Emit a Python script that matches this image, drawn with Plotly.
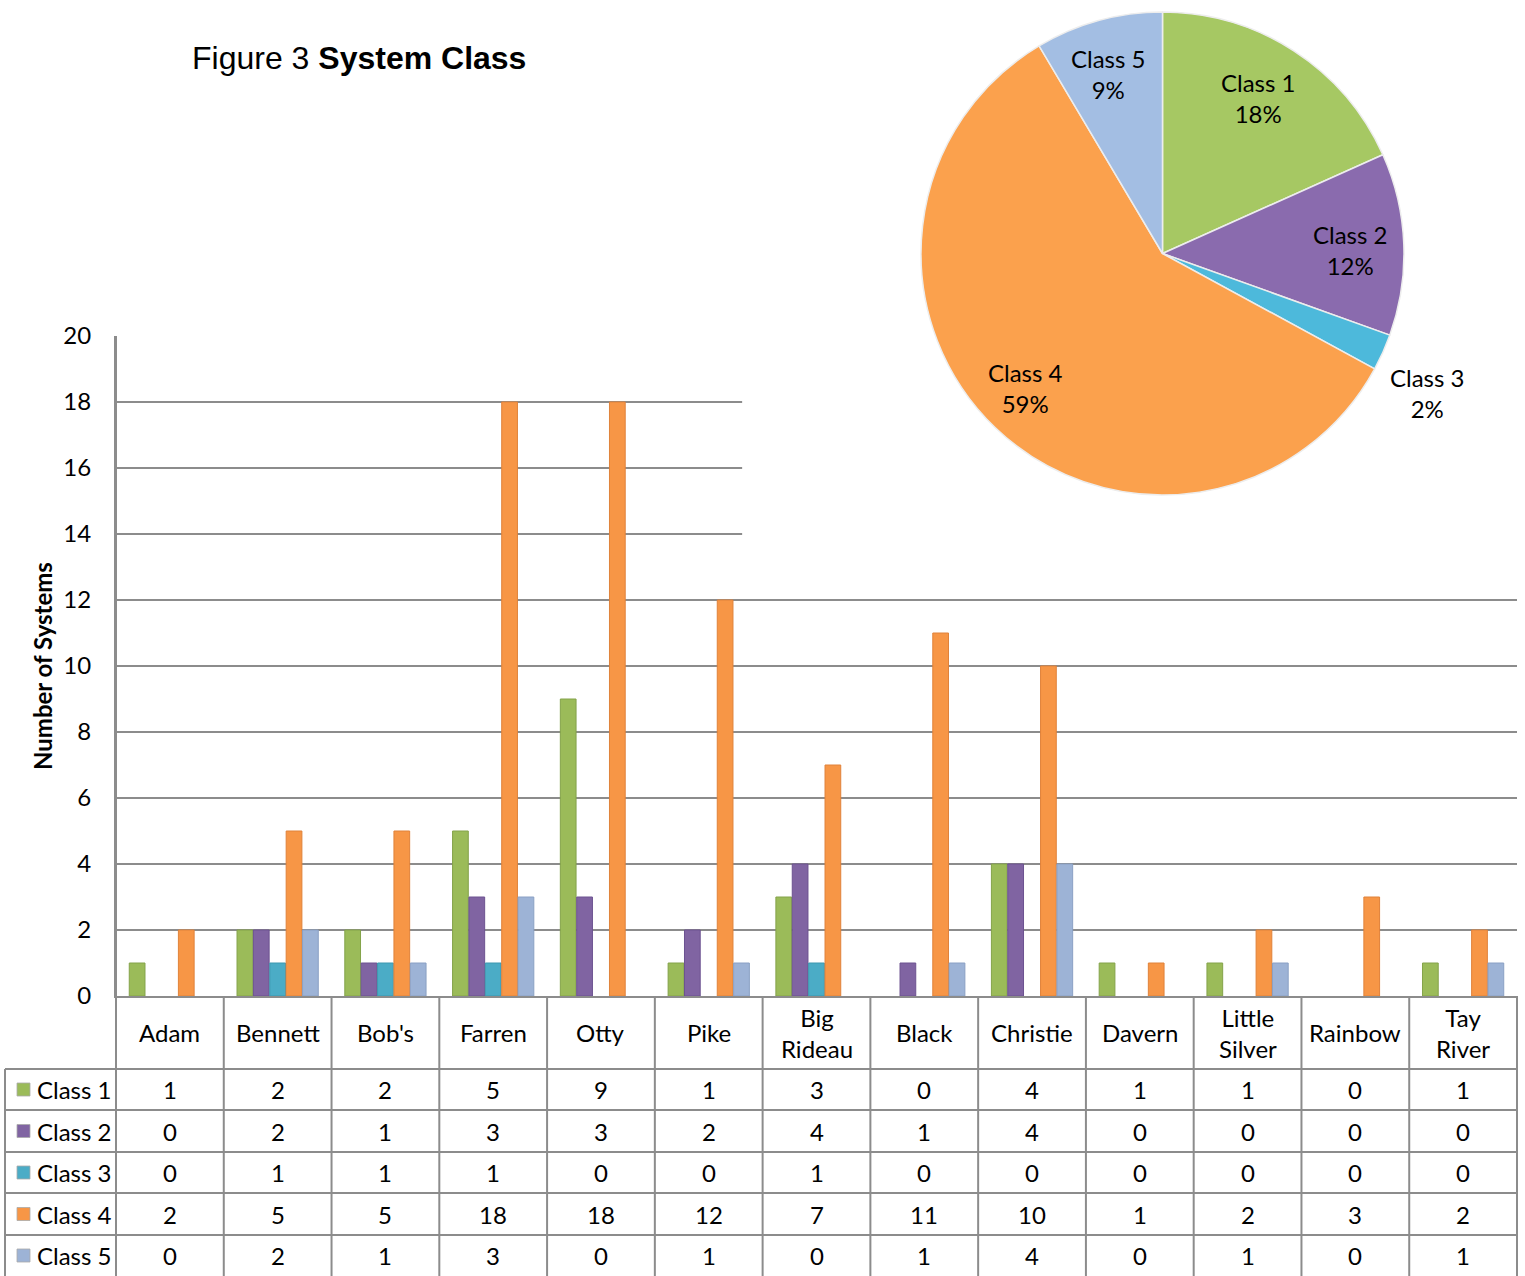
import plotly.graph_objects as go

# ---------------- data ----------------
categories = ["Adam", "Bennett", "Bob's", "Farren", "Otty", "Pike", "Big Rideau",
              "Black", "Christie", "Davern", "Little Silver", "Rainbow", "Tay River"]
category_labels = ["Adam", "Bennett", "Bob's", "Farren", "Otty", "Pike", "Big<br>Rideau",
                   "Black", "Christie", "Davern", "Little<br>Silver", "Rainbow", "Tay<br>River"]
series_names = ["Class 1", "Class 2", "Class 3", "Class 4", "Class 5"]
class1 = [1, 2, 2, 5, 9, 1, 3, 0, 4, 1, 1, 0, 1]
class2 = [0, 2, 1, 3, 3, 2, 4, 1, 4, 0, 0, 0, 0]
class3 = [0, 1, 1, 1, 0, 0, 1, 0, 0, 0, 0, 0, 0]
class4 = [2, 5, 5, 18, 18, 12, 7, 11, 10, 1, 2, 3, 2]
class5 = [0, 2, 1, 3, 0, 1, 0, 1, 4, 0, 1, 0, 1]
series_values = [class1, class2, class3, class4, class5]
y_ticks = [0, 2, 4, 6, 8, 10, 12, 14, 16, 18, 20]

# ---------------- style ----------------
W, H = 1525, 1276
bar_colors = ["#9BBB59", "#8064A2", "#4BACC6", "#F79646", "#9DB3D6"]
bar_edges = ["#84A34A", "#6C5290", "#3D97AF", "#E0823A", "#8AA0C4"]
pie_colors = ["#A6C863", "#8A6BAE", "#4DB9DB", "#FBA14D", "#A3BEE3"]
grid_col = "#8C8C8C"
FONT = "Lato"
TXT = dict(family=FONT, size=24, color="black")


def xp(px):
    return px / W


def yp(py):
    return 1 - py / H


fig = go.Figure()

for name, vals, c, e in zip(series_names, series_values, bar_colors, bar_edges):
    fig.add_trace(go.Bar(x=categories, y=[v if v else None for v in vals], name=name,
                         marker=dict(color=c, line=dict(color=e, width=1)),
                         showlegend=False))

# pie of totals
totals = [sum(v) for v in series_values]
grand = sum(totals)
fig.add_trace(go.Pie(labels=series_names, values=totals, sort=False,
                     direction="clockwise", rotation=0, textinfo="none",
                     marker=dict(colors=pie_colors, line=dict(color="#EDEDED", width=1.5)),
                     domain=dict(x=[xp(921), xp(1404)], y=[yp(495), yp(12)]),
                     showlegend=False, hoverinfo="label+percent"))

annotations = []
shapes = []


def ann(text, x, y, xref="paper", yref="paper", xanchor="center", yanchor="middle", **kw):
    d = dict(text=text, x=x, y=y, xref=xref, yref=yref, xanchor=xanchor,
             yanchor=yanchor, showarrow=False, font=kw.pop("font", TXT))
    d.update(kw)
    annotations.append(d)


# pie labels
pie_label_pos = [(1258, 98), (1350, 250), (1427, 393), (1025, 388), (1108, 74)]
for name, t, (px, py) in zip(series_names, totals, pie_label_pos):
    ann(f"{name}<br>{round(100 * t / grand)}%", xp(px), yp(py), align="center")

# white panel behind pie (covers gridlines only)
shapes.append(dict(type="rect", xref="x", yref="y", x0=5.31, x1=13, y0=13.05, y1=21,
                   fillcolor="white", line=dict(width=0), layer="between"))

# title
ann("Figure 3 <b>System Class</b>", xp(190), yp(58), xanchor="left",
    font=dict(family="Liberation Sans, Arial", size=32, color="black"))

# y-axis title
ann("<b>Number of Systems</b>", xp(42), yp(666), textangle=-90)

# ---------------- data table ----------------
header_mid = (996 + 1069) / 2
row_edges = [1069, 1110, 1152, 1193, 1235, 1276]
for lab, cat in zip(category_labels, categories):
    ann(lab, cat, yp(header_mid), xref="x", align="center")

for i, (name, vals, c) in enumerate(zip(series_names, series_values, bar_colors)):
    yc = (row_edges[i] + row_edges[i + 1]) / 2
    for cat, v in zip(categories, vals):
        ann(str(v), cat, yp(yc), xref="x")
    ann(name, xp(35), yp(yc), xanchor="left")
    shapes.append(dict(type="rect", xref="paper", yref="paper",
                       x0=xp(17), x1=xp(30), y0=yp(yc + 6.5), y1=yp(yc - 6.5),
                       fillcolor=c, line=dict(color="#AAAAAA", width=0.8)))

line_style = dict(color=grid_col, width=2)
# horizontal table lines
for ry in row_edges[:-1]:
    shapes.append(dict(type="line", xref="paper", yref="paper",
                       x0=xp(5), x1=xp(1517), y0=yp(ry), y1=yp(ry), line=line_style))
# vertical table lines
shapes.append(dict(type="line", xref="paper", yref="paper",
                   x0=xp(5), x1=xp(5), y0=yp(1069), y1=yp(1276), line=line_style))
shapes.append(dict(type="line", xref="paper", yref="paper",
                   x0=xp(116), x1=xp(116), y0=yp(336), y1=yp(1276), line=line_style))
for k in range(1, len(categories) + 1):
    shapes.append(dict(type="line", xref="x", yref="paper",
                       x0=k - 0.5, x1=k - 0.5, y0=yp(996), y1=yp(1276), line=line_style))
shapes.append(dict(type="line", xref="paper", yref="paper",
                   x0=xp(1517), x1=xp(1517), y0=yp(996), y1=yp(1276), line=line_style))

fig.update_layout(
    width=W, height=H,
    margin=dict(l=0, r=0, t=0, b=0, pad=0),
    paper_bgcolor="white", plot_bgcolor="white",
    barmode="group", bargap=0.24, bargroupgap=0.04,
    xaxis=dict(domain=[xp(116), xp(1517)], range=[-0.5, len(categories) - 0.5],
               showticklabels=False, ticks="", showgrid=False, zeroline=False,
               showline=True, linecolor=grid_col, linewidth=2, automargin=False,
               categoryorder="array", categoryarray=categories),
    yaxis=dict(domain=[yp(996), yp(336)], range=[0, 20], tickvals=y_ticks,
               showgrid=True, gridcolor=grid_col, gridwidth=1.5, zeroline=False,
               showline=True, linecolor=grid_col, linewidth=2, ticks="",
               ticklabelstandoff=18, automargin=False,
               tickfont=TXT),
    annotations=annotations,
    shapes=shapes,
    font=dict(family=FONT),
)

fig.write_html("out.html", config={"displayModeBar": False},
               post_script="document.body.style.margin='0';document.body.style.overflow='hidden';")
